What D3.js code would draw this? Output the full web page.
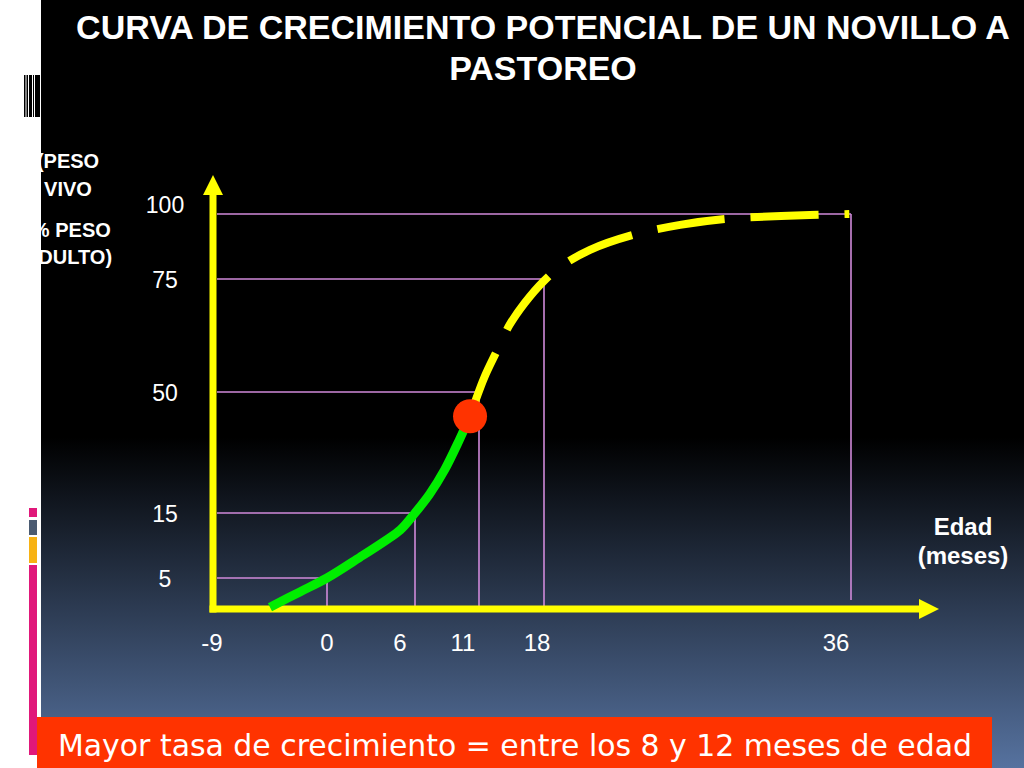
<!DOCTYPE html>
<html>
<head>
<meta charset="utf-8">
<script src="https://cdn.jsdelivr.net/npm/d3@7"></script>
<style>
html,body{margin:0;padding:0;background:#000;overflow:hidden;}
svg{display:block;}
</style>
</head>
<body>
<svg id="chart" width="1024" height="768"></svg>
<script>
// ---- data ----
const titleLines = ["CURVA DE CRECIMIENTO POTENCIAL DE UN NOVILLO A", "PASTOREO"];
const yLabelLines = ["(PESO", "VIVO", "(% PESO", "ADULTO)"];
const xLabelLines = ["Edad", "(meses)"];
const note = "Mayor tasa de crecimiento = entre los 8 y 12 meses de edad";
const xTicks = [-9, 0, 6, 11, 18, 36];
const yTicks = [5, 15, 50, 75, 100];
// reference points: age (months) -> % adult weight
const guideAge = [0, 6, 11, 18, 36];
const guideWeight = [5, 15, 50, 75, 100];
// growth curve, solid green part
const greenAge = [-4.5, -2.1, 0, 2.25, 3.95, 5.0, 6, 7.15, 8.3, 9.46, 10.0, 10.3];
const greenWeight = [0.3, 2.8, 5, 8.2, 10.7, 12.4, 15, 20.5, 27.4, 36.1, 40.5, 43];
// growth curve, dashed yellow part (potential)
const yellowAge = [10.3, 11.55, 12.86, 14.28, 15.92, 18, 18.94, 20.7, 23.2, 25.98, 28.6, 31.9, 35.9];
const yellowWeight = [43, 53.1, 58.8, 64.8, 69.7, 74.6, 79.6, 86.2, 91.9, 95.8, 98.1, 99.2, 100];
// point of maximum growth rate
const peakAge = [10.3];
const peakWeight = [43];

// ---- layout ----
const svg = d3.select("#chart");
const W = 1024, H = 768;

// piecewise (non-uniform) scales as in the original slide
const x = d3.scaleLinear().domain([-9, 0, 6, 11, 18, 36]).range([213, 327, 415, 479, 544, 851]);
const y = d3.scaleLinear().domain([0, 5, 15, 50, 75, 100]).range([609, 578, 513, 392, 279, 214]);
const xLabelShift = [-1, 0, -15, -16, -7, -15];
const yLabelShift = {5: 0, 15: 0, 50: 0, 75: 0, 100: -10};

// background
const defs = svg.append("defs");
const grad = defs.append("linearGradient").attr("id", "bg").attr("x1", 0).attr("y1", 0).attr("x2", 0).attr("y2", 1);
grad.append("stop").attr("offset", "0%").attr("stop-color", "#000000");
grad.append("stop").attr("offset", "57%").attr("stop-color", "#000000");
grad.append("stop").attr("offset", "100%").attr("stop-color", "#56729f");
svg.append("rect").attr("width", W).attr("height", H).attr("fill", "url(#bg)");

// title
svg.append("g").selectAll("text").data(titleLines).join("text")
  .attr("x", 543).attr("y", (d, i) => 39 + i * 41)
  .attr("text-anchor", "middle")
  .attr("font-family", "Liberation Sans, Arial, sans-serif")
  .attr("font-weight", "bold").attr("font-size", 34).attr("fill", "#ffffff")
  .text(d => d);

// y-axis label (partly hidden by the white margin)
svg.append("g").selectAll("text").data(yLabelLines).join("text")
  .attr("x", 68).attr("y", (d, i) => [168, 196, 237, 264][i])
  .attr("text-anchor", "middle")
  .attr("font-family", "Liberation Sans, Arial, sans-serif")
  .attr("font-weight", "bold").attr("font-size", 20).attr("fill", "#ffffff")
  .text(d => d);

// x-axis label
svg.append("g").selectAll("text").data(xLabelLines).join("text")
  .attr("x", 963).attr("y", (d, i) => 535 + i * 29)
  .attr("text-anchor", "middle")
  .attr("font-family", "Liberation Sans, Arial, sans-serif")
  .attr("font-weight", "bold").attr("font-size", 24).attr("fill", "#ffffff")
  .text(d => d);

// guide lines
const guides = guideAge.map((a, i) => ({a, w: guideWeight[i]}));
const gg = svg.append("g").attr("stroke", "#d08ada").attr("stroke-width", 1.6).attr("fill", "none");
gg.selectAll("line.h").data(guides).join("line").attr("class", "h")
  .attr("x1", 217).attr("x2", d => x(d.a)).attr("y1", d => y(d.w)).attr("y2", d => y(d.w));
gg.selectAll("line.v").data(guides).join("line").attr("class", "v")
  .attr("x1", d => x(d.a)).attr("x2", d => x(d.a)).attr("y1", d => y(d.w))
  .attr("y2", d => d.a === 36 ? 600 : 606);

// axes
const axisColor = "#ffff00";
const x0 = x(-9), y0 = y(0);
svg.append("line").attr("x1", x0).attr("x2", x0).attr("y1", y0 + 3.5).attr("y2", 190)
  .attr("stroke", axisColor).attr("stroke-width", 7);
svg.append("path").attr("d", `M${x0 - 10},195 L${x0},175 L${x0 + 10},195 Z`).attr("fill", axisColor);
svg.append("line").attr("x1", x0 - 3.5).attr("x2", 922).attr("y1", y0).attr("y2", y0)
  .attr("stroke", axisColor).attr("stroke-width", 7);
svg.append("path").attr("d", `M919,${y0 - 10} L939,${y0} L919,${y0 + 10} Z`).attr("fill", axisColor);

// tick labels
svg.append("g").selectAll("text").data(xTicks).join("text")
  .attr("x", (d, i) => x(d) + xLabelShift[i]).attr("y", 651)
  .attr("text-anchor", "middle")
  .attr("font-family", "Liberation Sans, Arial, sans-serif")
  .attr("font-size", 24).attr("fill", "#ffffff")
  .text(d => d);
svg.append("g").selectAll("text").data(yTicks).join("text")
  .attr("x", 165).attr("y", d => y(d) + yLabelShift[d] + 9)
  .attr("text-anchor", "middle")
  .attr("font-family", "Liberation Sans, Arial, sans-serif")
  .attr("font-size", 23).attr("fill", "#ffffff")
  .text(d => d);

// curve
const line = d3.line().x(d => x(d[0])).y(d => y(d[1])).curve(d3.curveCatmullRom.alpha(0.5));
svg.append("path").datum(greenAge.map((a, i) => [a, greenWeight[i]]))
  .attr("d", line).attr("fill", "none").attr("stroke", "#00ee00").attr("stroke-width", 9);
svg.append("path").datum(yellowAge.map((a, i) => [a, yellowWeight[i]]))
  .attr("d", line).attr("fill", "none").attr("stroke", "#ffff00").attr("stroke-width", 8)
  .attr("stroke-dasharray", "68,26");
svg.append("g").selectAll("circle").data(peakAge.map((a, i) => [a, peakWeight[i]])).join("circle")
  .attr("cx", d => x(d[0])).attr("cy", d => y(d[1])).attr("r", 17).attr("fill", "#ff3300");

// white margin with decorations
svg.append("rect").attr("x", 0).attr("y", 0).attr("width", 41).attr("height", H).attr("fill", "#ffffff");
const stripes = [[24, 1.5], [26.5, 1.5], [29, 3], [33, 1], [35, 5]];
svg.append("g").selectAll("rect").data(stripes).join("rect")
  .attr("x", d => d[0]).attr("width", d => d[1]).attr("y", 75).attr("height", 42).attr("fill", "#000000");
const sideBars = [[508, 9, "#e0187a"], [520, 15, "#4b5b72"], [537, 26, "#f7b214"], [565, 190, "#e0187a"]];
svg.append("g").selectAll("rect").data(sideBars).join("rect")
  .attr("x", 29).attr("width", 8).attr("y", d => d[0]).attr("height", d => d[1]).attr("fill", d => d[2]);

// bottom note
svg.append("rect").attr("x", 37).attr("y", 717).attr("width", 955).attr("height", 51).attr("fill", "#ff3300");
svg.append("text").attr("x", 58).attr("y", 756)
  .attr("font-family", "DejaVu Sans, Verdana, sans-serif")
  .attr("font-size", 30).attr("fill", "#ffffff")
  .attr("textLength", 914).attr("lengthAdjust", "spacingAndGlyphs")
  .text(note);
</script>
</body>
</html>
